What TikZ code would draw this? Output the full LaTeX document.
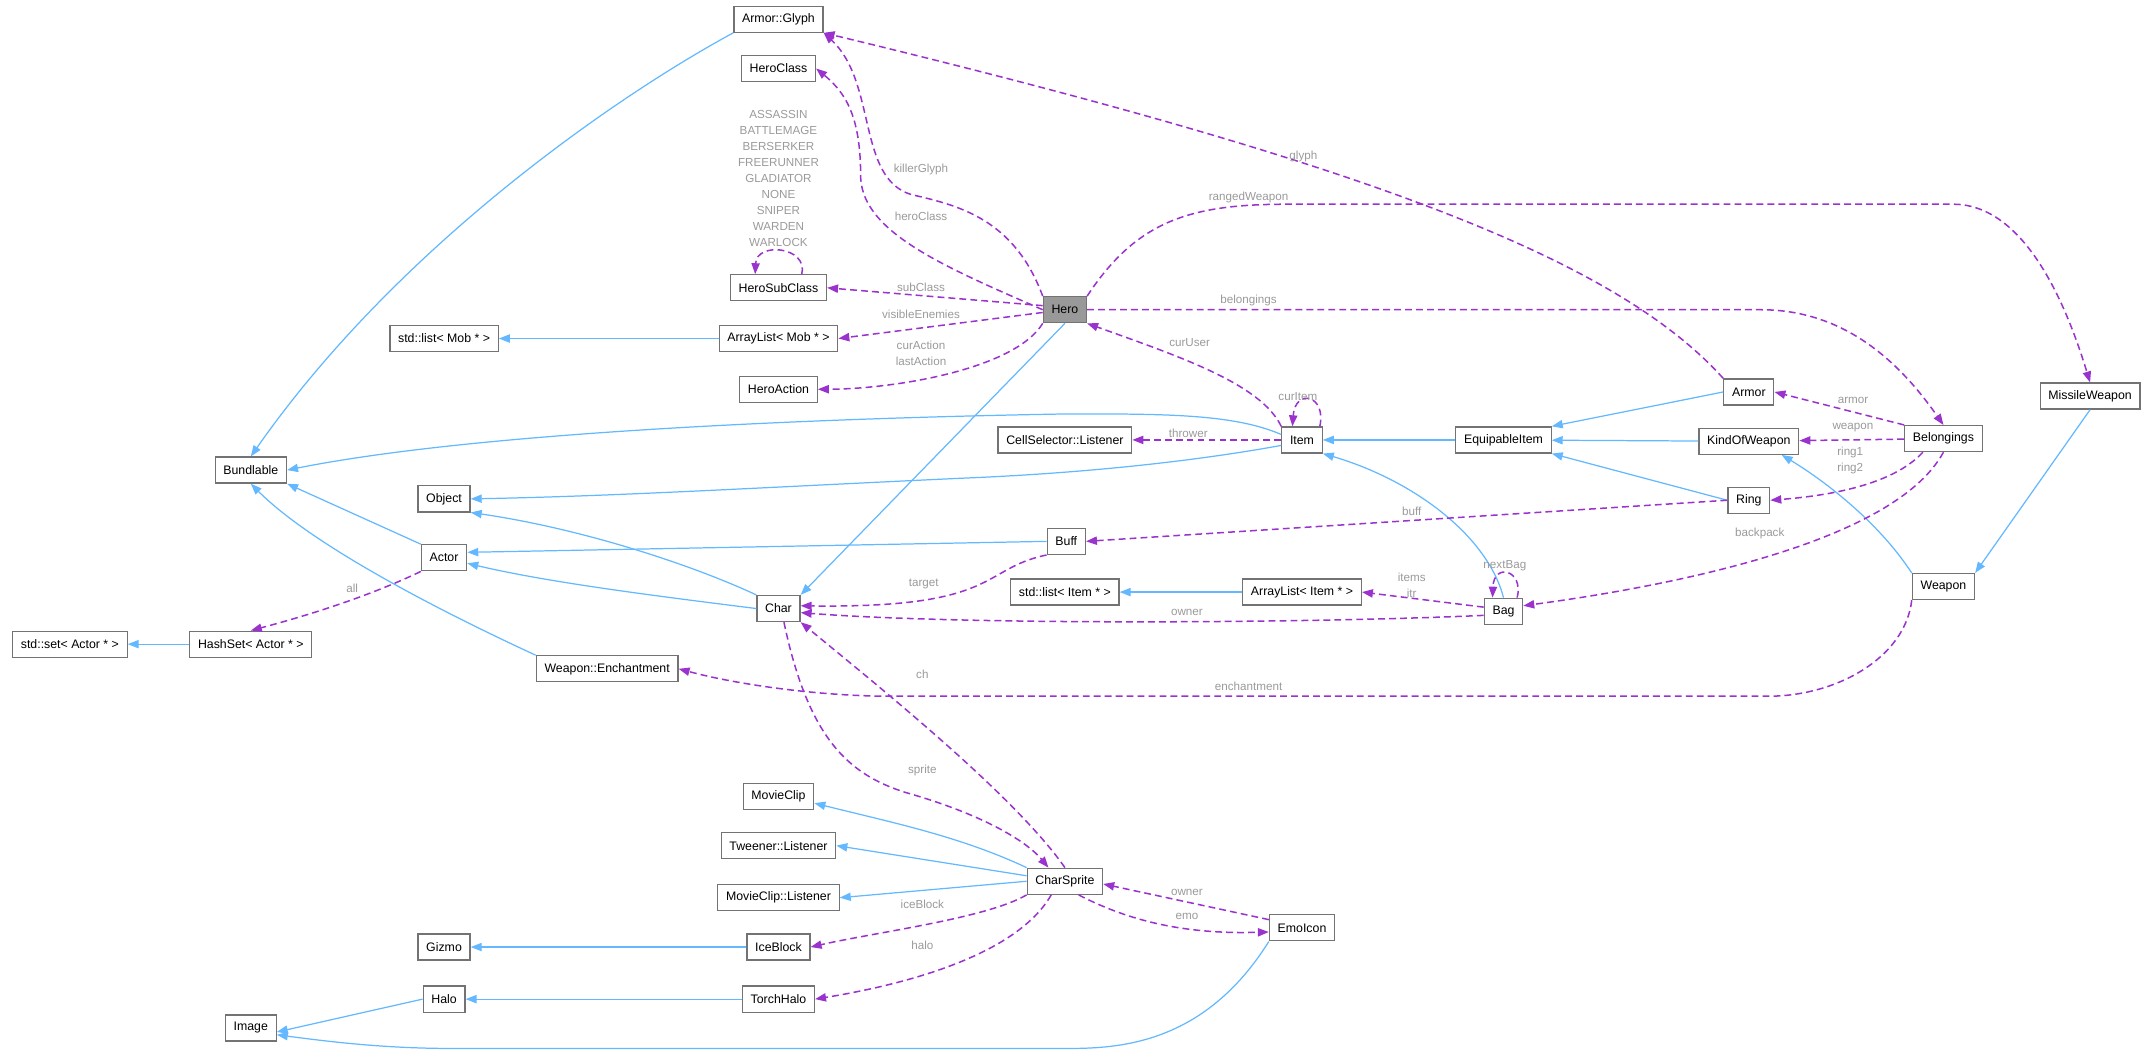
\documentclass[tikz,border=0pt]{standalone}
\usepackage{fontspec}
\setmainfont{Liberation Sans}
\usetikzlibrary{arrows.meta}
\definecolor{inhblue}{HTML}{63B8FF}
\definecolor{usepurple}{HTML}{9A32CD}
\definecolor{lblgray}{HTML}{9A9A9A}
\tikzset{
  >={Triangle[length=8pt,width=6pt]},
  box/.style={draw=black!55,line width=0.9pt,fill=white,inner xsep=6pt,inner ysep=0pt,
    minimum height=19pt,font=\fontsize{9}{10}\selectfont},
  inh/.style={->,draw=inhblue,line width=0.9pt},
  use/.style={->,draw=usepurple,line width=1.1pt,dash pattern=on 5pt off 3pt},
  lbl/.style={text=lblgray,font=\fontsize{8.5}{11.7}\selectfont,align=center,inner sep=0pt},
}

\begin{document}
\begin{tikzpicture}[x=1pt,y=-1pt]
  \useasboundingbox (0,0) rectangle (1568,770);
  % classes
  \node[box] (glyph) at (568,14) {Armor::Glyph};
  \node[box] (heroclass) at (568,50) {HeroClass};
  \node[box] (subclass) at (568,210) {HeroSubClass};
  \node[box] (mobarr) at (568,247) {ArrayList< Mob * >};
  \node[box] (moblist) at (324,247) {std::list< Mob * >};
  \node[box] (heroaction) at (568,284) {HeroAction};
  \node[box,fill=black!40] (hero) at (777,226) {Hero};
  \node[box] (bund) at (183,343) {Bundlable};
  \node[box] (obj) at (324,364) {Object};
  \node[box] (cellsel) at (777,321) {CellSelector::Listener};
  \node[box] (item) at (950,321) {Item};
  \node[box] (equip) at (1097,321) {EquipableItem};
  \node[box] (armor) at (1276,286) {Armor};
  \node[box] (kow) at (1276,322) {KindOfWeapon};
  \node[box] (belong) at (1418,320) {Belongings};
  \node[box] (missile) at (1525,289) {MissileWeapon};
  \node[box] (ring) at (1276,365) {Ring};
  \node[box] (buff) at (778,395) {Buff};
  \node[box] (actor) at (324,407) {Actor};
  \node[box] (char) at (568,444) {Char};
  \node[box] (itemlist) at (777,432) {std::list< Item * >};
  \node[box] (itemarr) at (950,432) {ArrayList< Item * >};
  \node[box] (bag) at (1097,446) {Bag};
  \node[box] (weapon) at (1418,428) {Weapon};
  \node[box] (setactor) at (51,470) {std::set< Actor * >};
  \node[box] (hashset) at (183,470) {HashSet< Actor * >};
  \node[box] (ench) at (443,488) {Weapon::Enchantment};
  \node[box] (movieclip) at (568,581) {MovieClip};
  \node[box] (tween) at (568,617) {Tweener::Listener};
  \node[box] (mclisten) at (568,655) {MovieClip::Listener};
  \node[box] (sprite) at (777,643) {CharSprite};
  \node[box] (emo) at (950,677) {EmoIcon};
  \node[box] (gizmo) at (324,691) {Gizmo};
  \node[box] (iceblock) at (568,691) {IceBlock};
  \node[box] (halo) at (324,729) {Halo};
  \node[box] (torch) at (568,729) {TorchHalo};
  \node[box] (image) at (183,750) {Image};

  % inheritance
  \draw[inh] (glyph.south west) .. controls (450,70) and (290,180) .. (bund.north);
  \draw[inh] (mobarr) -- (moblist);
  \draw[inh] (hero.south) -- (char.north east);
  \draw[inh] ([yshift=4pt]item.west) .. controls (900,302) and (850,302) .. (780,302)
    .. controls (600,305) and (350,315) .. (bund.east);
  \draw[inh] ([yshift=-4pt]item.west) .. controls (880,335) and (800,345) .. (700,349)
    .. controls (550,356) and (450,362) .. (obj.east);
  \draw[inh] (equip) -- (item);
  \draw[inh] (armor.west) -- (equip.north east);
  \draw[inh] (kow) -- (equip);
  \draw[inh] (ring.west) -- (equip.south east);
  \draw[inh] (bag.north) .. controls (1085,390) and (1030,350) .. (item.south east);
  \draw[inh] (weapon.north west) .. controls (1370,380) and (1330,350) .. ([xshift=24pt]kow.south);
  \draw[inh] (missile.south) -- (weapon.north east);
  \draw[inh] (buff.west) -- ([yshift=4pt]actor.east);
  \draw[inh] (char.west) .. controls (480,435) and (400,425) .. ([yshift=-4pt]actor.east);
  \draw[inh] (char.north west) .. controls (500,410) and (420,385) .. (obj.south east);
  \draw[inh] (actor.north west) -- (bund.south east);
  \draw[inh] (ench.north west) .. controls (330,450) and (230,400) .. (bund.south);
  \draw[inh] (hashset) -- (setactor);
  \draw[inh] (itemarr) -- (itemlist);
  \draw[inh] (sprite.north west) .. controls (700,610) and (650,600) .. ([yshift=-5pt]movieclip.east);
  \draw[inh] ([yshift=4pt]sprite.west) -- (tween.east);
  \draw[inh] (sprite.west) -- (mclisten.east);
  \draw[inh] (iceblock) -- (gizmo);
  \draw[inh] (torch) -- (halo);
  \draw[inh] (halo.west) -- ([yshift=-3pt]image.east);
  \draw[inh] (emo.south west) .. controls (880,760) and (820,765) .. (780,765) -- (330,765)
    .. controls (280,765) and (240,760) .. ([yshift=-5pt]image.east);

  % usage
  \draw[use] (hero.north west) .. controls (740,160) and (700,150) .. (665,142)
    .. controls (625,130) and (640,60) .. (glyph.south east);
  \draw[use] (hero.west) .. controls (690,195) and (630,170) .. (628,130)
    .. controls (628,90) and (620,70) .. (heroclass.east);
  \draw[use] ([yshift=3pt]hero.west) -- (subclass.east);
  \draw[use] ([yshift=-2pt]hero.west) -- (mobarr.east);
  \draw[use] (hero.south west) .. controls (740,270) and (650,284) .. (heroaction.east);
  \draw[use] ([xshift=17pt]subclass.north) .. controls (590,180) and (552,176) .. ([xshift=-17pt]subclass.north);
  \draw[use] (armor.north west) .. controls (1180,190) and (1000,120) .. (glyph.south east);
  \draw[use] (hero.north east) .. controls (830,160) and (870,149) .. (940,149) -- (1425,149)
    .. controls (1480,149) and (1510,230) .. (missile.north);
  \draw[use] (hero.east) -- (1285,226) .. controls (1350,226) and (1390,270) .. (belong.north);
  \draw[use] (item.north west) .. controls (920,280) and (860,260) .. (hero.south east);
  \draw[use] ([xshift=13pt]item.north) .. controls (968,288) and (945,283) .. ([xshift=-7pt]item.north);
  \draw[use] (item) -- (cellsel);
  \draw[use] (belong.north west) -- (armor.east);
  \draw[use] (belong) -- (kow);
  \draw[use] ([xshift=-15pt]belong.south) .. controls (1380,355) and (1330,362) .. (ring.east);
  \draw[use] (belong.south) .. controls (1380,400) and (1200,430) .. ([yshift=4pt]bag.east);
  \draw[use] (ring.west) -- (buff.east);
  \draw[use] (buff.south west) .. controls (715,415) and (730,444) .. ([yshift=2pt]char.east);
  \draw[use] ([yshift=3pt]bag.west) -- (itemarr.east);
  \draw[use] ([xshift=10pt]bag.north) .. controls (1112,416) and (1090,410) .. ([xshift=-8pt]bag.north);
  \draw[use] ([yshift=-3pt]bag.west) .. controls (950,455) and (700,456) .. ([yshift=-3pt]char.east);
  \draw[use] (actor.south west) .. controls (280,430) and (240,445) .. (hashset.north);
  \draw[use] (weapon.south west) .. controls (1390,480) and (1340,508) .. (1290,508) -- (650,508)
    .. controls (600,508) and (540,500) .. (ench.east);
  \draw[use] (sprite.north) .. controls (740,580) and (640,500) .. (char.south east);
  \draw[use] ([xshift=4pt]char.south) .. controls (590,540) and (620,565) .. (660,578)
    .. controls (720,595) and (750,615) .. ([xshift=-12pt]sprite.north);
  \draw[use] (sprite.south west) .. controls (720,670) and (640,680) .. (iceblock.east);
  \draw[use] ([xshift=-10pt]sprite.south) .. controls (740,700) and (650,720) .. (torch.east);
  \draw[use] ([xshift=10pt]sprite.south) .. controls (820,670) and (860,682) .. ([yshift=-3pt]emo.west);
  \draw[use] ([yshift=6pt]emo.west) -- ([yshift=-2pt]sprite.east);

  % labels
  \node[lbl] (lEnum) at (568,130) {ASSASSIN\\BATTLEMAGE\\BERSERKER\\FREERUNNER\\GLADIATOR\\NONE\\SNIPER\\WARDEN\\WARLOCK};
  \node[lbl] (lKiller) at (672,124) {killerGlyph};
  \node[lbl] (lHeroClass) at (672,158) {heroClass};
  \node[lbl] (lSub) at (672,210) {subClass};
  \node[lbl] (lVis) at (672,229) {visibleEnemies};
  \node[lbl] (lAction) at (672,258) {curAction\\lastAction};
  \node[lbl] (lGlyph) at (951,114) {glyph};
  \node[lbl] (lRanged) at (911,144) {rangedWeapon};
  \node[lbl] (lBelong) at (911,219) {belongings};
  \node[lbl] (lCurUser) at (868,250) {curUser};
  \node[lbl] (lCurItem) at (947,289) {curItem};
  \node[lbl] (lThrower) at (867,316) {thrower};
  \node[lbl] (lArmor) at (1352,292) {armor};
  \node[lbl] (lWeapon) at (1352,312) {weapon};
  \node[lbl] (lRing) at (1350,336) {ring1\\ring2};
  \node[lbl] (lBuff) at (1030,373) {buff};
  \node[lbl] (lBackpack) at (1284,389) {backpack};
  \node[lbl] (lTarget) at (674,426) {target};
  \node[lbl] (lItems) at (1030,427) {items\\itr};
  \node[lbl] (lNextBag) at (1098,413) {nextBag};
  \node[lbl] (lOwnerBag) at (866,447) {owner};
  \node[lbl] (lAll) at (257,429) {all};
  \node[lbl] (lEnch) at (911,501) {enchantment};
  \node[lbl] (lCh) at (673,492) {ch};
  \node[lbl] (lSprite) at (673,562) {sprite};
  \node[lbl] (lIce) at (673,660) {iceBlock};
  \node[lbl] (lHalo) at (673,690) {halo};
  \node[lbl] (lOwnerEmo) at (866,651) {owner};
  \node[lbl] (lEmo) at (866,669) {emo};
\end{tikzpicture}
\end{document}
